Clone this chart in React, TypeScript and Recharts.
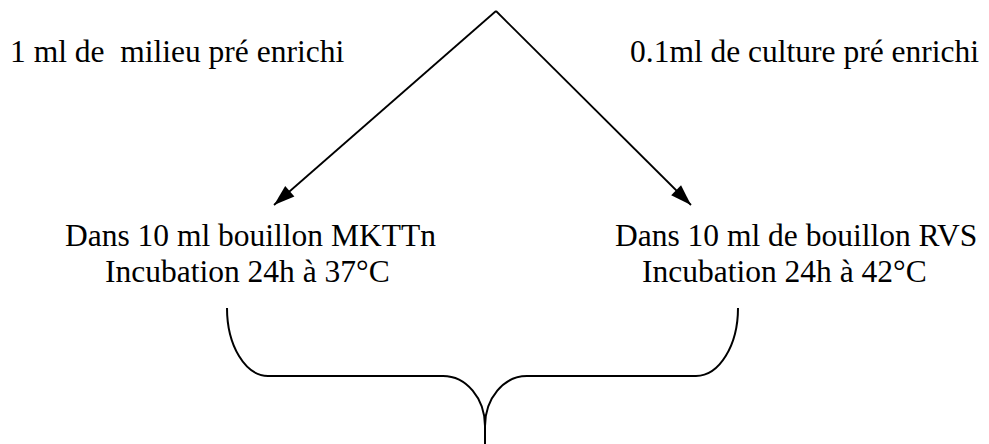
import React from 'react';
import { ComposedChart, Line, Scatter, XAxis, YAxis } from 'recharts';

// diagram units = pixels of the 989x444 frame (y grows downward)
const apex = { x: 496, y: 11 };
const arrowTips = [
  { x: 274, y: 205 },
  { x: 691, y: 205 },
];

const topLabels = ['1 ml de  milieu pré enrichi', '0.1ml de culture pré enrichi'];
const topLabelX = [10, 630];
const topLabelY = [62, 62];

const leftLines = ['Dans 10 ml bouillon MKTTn', 'Incubation 24h à 37°C'];
const leftLineX = [65, 105];
const rightLines = ['Dans 10 ml de bouillon RVS', 'Incubation 24h à 42°C'];
const rightLineX = [615, 642];
const lineY = [246, 282];

// brace pieces
const braceLeftTip = [{ x: 227, y: 308 }, { x: 268, y: 376 }];
const braceLeftBar = [{ x: 268, y: 376 }, { x: 443, y: 376 }];
const braceLeftCusp = [{ x: 443, y: 376 }, { x: 485, y: 426 }];
const braceStem = [{ x: 485, y: 426 }, { x: 485, y: 444 }];
const braceRightCusp = [{ x: 527, y: 376 }, { x: 485, y: 426 }];
const braceRightBar = [{ x: 527, y: 376 }, { x: 696, y: 376 }];
const braceRightTip = [{ x: 738, y: 308 }, { x: 696, y: 376 }];

const FONT = "'Liberation Serif', 'Times New Roman', serif";
const FONT_SIZE = 31.5;
const W = 989;
const H = 444;

// quarter-ellipse between consecutive points
const K = 0.5523;
const quarterCurve = (startVertical: boolean) => (context: any) => {
  let pts: [number, number][] = [];
  return {
    areaStart() {},
    areaEnd() {},
    lineStart() {
      pts = [];
    },
    point(x: number, y: number) {
      pts.push([x, y]);
    },
    lineEnd() {
      if (!pts.length) return;
      context.moveTo(pts[0][0], pts[0][1]);
      for (let i = 1; i < pts.length; i++) {
        const [x0, y0] = pts[i - 1];
        const [x1, y1] = pts[i];
        if (startVertical) {
          context.bezierCurveTo(x0, y0 + K * (y1 - y0), x1 - K * (x1 - x0), y1, x1, y1);
        } else {
          context.bezierCurveTo(x0 + K * (x1 - x0), y0, x1, y1 - K * (y1 - y0), x1, y1);
        }
      }
    },
  };
};
const vThenH = quarterCurve(true);
const hThenV = quarterCurve(false);

const arrowLeft = [apex, arrowTips[0]];
const arrowRight = [apex, arrowTips[1]];

const labelPoints = [
  ...topLabels.map((t, i) => ({ x: topLabelX[i], y: topLabelY[i], text: t })),
  ...leftLines.map((t, i) => ({ x: leftLineX[i], y: lineY[i], text: t })),
  ...rightLines.map((t, i) => ({ x: rightLineX[i], y: lineY[i], text: t })),
];

const LabelShape = (props: any) => (
  <text
    x={props.cx}
    y={props.cy}
    fill="#000"
    textAnchor="start"
    style={{ whiteSpace: 'pre', fontFamily: FONT, fontSize: FONT_SIZE }}
  >
    {props.payload.text}
  </text>
);

const ArrowHead = (props: any) => {
  const { cx, cy, payload } = props;
  const ang = (Math.atan2(payload.y - apex.y, payload.x - apex.x) * 180) / Math.PI;
  return (
    <path
      d="M0,0 L-21,-7 L-21,7 Z"
      fill="#000"
      transform={`translate(${cx},${cy}) rotate(${ang})`}
    />
  );
};

const stroke = { stroke: '#000', dot: false, activeDot: false, isAnimationActive: false };

const App: React.FC = () => {
  return (
    <div style={{ position: 'absolute', left: 0, top: 0, background: '#fff' }}>
      <ComposedChart width={W} height={H} margin={{ top: 0, right: 0, bottom: 0, left: 0 }}>
        <XAxis type="number" dataKey="x" domain={[0, W]} hide allowDataOverflow />
        <YAxis type="number" dataKey="y" domain={[0, H]} reversed hide allowDataOverflow />

        <Line data={arrowLeft} dataKey="y" type="linear" strokeWidth={1.8} {...stroke} />
        <Line data={arrowRight} dataKey="y" type="linear" strokeWidth={1.8} {...stroke} />

        <Line data={braceLeftTip} dataKey="y" type={vThenH as any} strokeWidth={2} {...stroke} />
        <Line data={braceLeftBar} dataKey="y" type="linear" strokeWidth={2} {...stroke} />
        <Line data={braceLeftCusp} dataKey="y" type={hThenV as any} strokeWidth={2} {...stroke} />
        <Line data={braceStem} dataKey="y" type="linear" strokeWidth={2} {...stroke} />
        <Line data={braceRightCusp} dataKey="y" type={hThenV as any} strokeWidth={2} {...stroke} />
        <Line data={braceRightBar} dataKey="y" type="linear" strokeWidth={2} {...stroke} />
        <Line data={braceRightTip} dataKey="y" type={vThenH as any} strokeWidth={2} {...stroke} />

        <Scatter data={arrowTips} dataKey="y" shape={<ArrowHead />} isAnimationActive={false} />
        <Scatter data={labelPoints} dataKey="y" shape={<LabelShape />} isAnimationActive={false} />
      </ComposedChart>
    </div>
  );
};

export default App;
